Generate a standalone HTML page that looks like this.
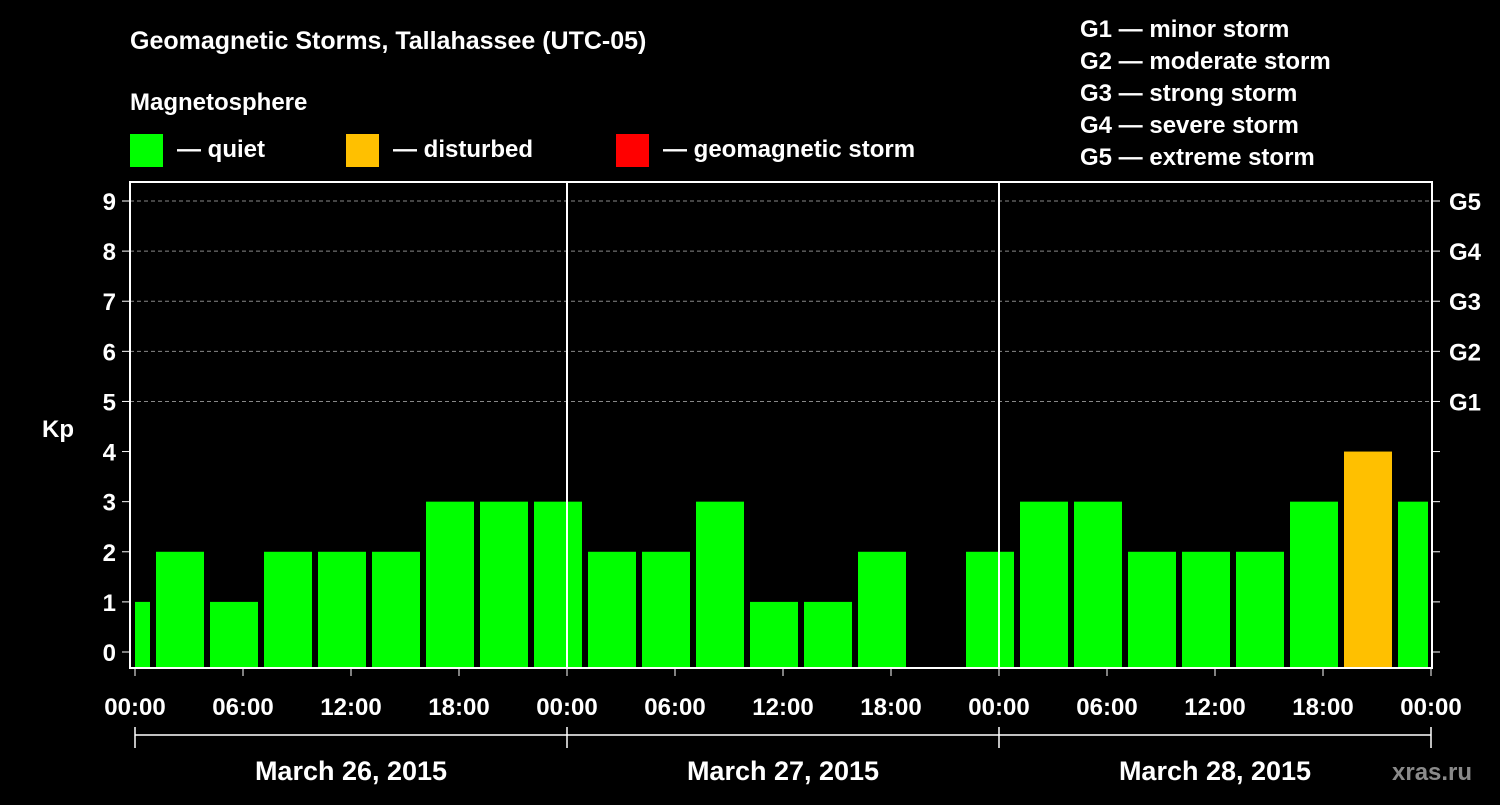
<!DOCTYPE html>
<html><head><meta charset="utf-8"><style>
body{margin:0;background:#000;}
svg text{font-family:"Liberation Sans",sans-serif;font-weight:bold;fill:#fff;}
</style></head><body>
<svg id="c" width="1500" height="800" xmlns="http://www.w3.org/2000/svg">
<rect width="1500" height="800" fill="#000"/>
<text x="130" y="49" font-size="25">Geomagnetic Storms, Tallahassee (UTC-05)</text>
<text x="130" y="110" font-size="24">Magnetosphere</text>
<g><rect x="130" y="134" width="33" height="33" fill="#00ff00"/><text x="177" y="157" font-size="24">— quiet</text></g>
<g><rect x="346" y="134" width="33" height="33" fill="#ffc000"/><text x="393" y="157" font-size="24">— disturbed</text></g>
<g><rect x="616" y="134" width="33" height="33" fill="#ff0000"/><text x="663" y="157" font-size="24">— geomagnetic storm</text></g>
<g font-size="24">
<text x="1080" y="37">G1 — minor storm</text>
<text x="1080" y="69">G2 — moderate storm</text>
<text x="1080" y="101">G3 — strong storm</text>
<text x="1080" y="133">G4 — severe storm</text>
<text x="1080" y="165">G5 — extreme storm</text>
</g>
<text x="42" y="437" font-size="24">Kp</text>
<text x="1392" y="780" font-size="24" fill="#888" style="fill:#8a8a8a">xras.ru</text>
<g id="plot"></g>
</svg>
<script>
const kpValues=[1,2,1,2,2,2,3,3,3,2,2,3,1,1,2,0,2,3,3,2,2,2,3,4,3];
const yTicks=[0,1,2,3,4,5,6,7,8,9];
const gLabels=["G1","G2","G3","G4","G5"];
const xTickLabels=["00:00","06:00","12:00","18:00","00:00","06:00","12:00","18:00","00:00","06:00","12:00","18:00","00:00"];
const dayLabels=["March 26, 2015","March 27, 2015","March 28, 2015"];
const NS="http://www.w3.org/2000/svg";
const g=document.getElementById('plot');
const L=130,R=1432,T=182,B=668,X0=135,X1=1431;
const x=h=>X0+(X1-X0)*h/72;
const y=v=>652-v*(652-201)/9;
function mk(t,a){const e=document.createElementNS(NS,t);for(const k in a)e.setAttribute(k,a[k]);g.appendChild(e);return e;}
// grid
gLabels.forEach((lab,i)=>{const v=5+i;
 const l=mk('line',{x1:L,x2:R,y1:y(v),y2:y(v),stroke:'#888','stroke-dasharray':'4,3','stroke-width':1});
 
 
 const t=mk('text',{x:1449,y:y(v)+9,'font-size':24});t.textContent=lab;
 
 
});
// bars
kpValues.forEach((v,i)=>{
 if(v<=0)return;
 const s=Math.max(0,3*i-2),e=Math.min(72,3*i+1);
 const x0=x(s)+(s>0?3:0),x1=x(e)-(e<72?3:3);
 const r=mk('rect',{x:x0,y:y(v),width:x1-x0,height:B-y(v),fill:v>=5?'#ff0000':v>=4?'#ffc000':'#00ff00'});
 
 
});
// frame
const f=mk('rect',{x:L,y:T,width:R-L,height:B-T,fill:'none',stroke:'#fff','stroke-width':2});


[24,48].forEach(h=>{const l=mk('line',{x1:x(h),x2:x(h),y1:T,y2:B,stroke:'#fff','stroke-width':2});
 
 });
// y ticks
yTicks.forEach(v=>{
 mk('line',{x1:L-8,x2:L,y1:y(v),y2:y(v),stroke:'#fff','stroke-width':1});
 mk('line',{x1:R,x2:R+8,y1:y(v),y2:y(v),stroke:'#fff','stroke-width':1});
 const t=mk('text',{x:L-14,y:y(v)+9,'font-size':24,'text-anchor':'end'});t.textContent=v;
 
 
});
// x ticks
xTickLabels.forEach((lab,i)=>{const xx=x(i*6);
 mk('line',{x1:xx,x2:xx,y1:B,y2:B+8,stroke:'#fff','stroke-width':1});
 const t=mk('text',{x:xx,y:715,'font-size':24,'text-anchor':'middle'});t.textContent=lab;
 
 
});
mk('line',{x1:X0,x2:X1,y1:735,y2:735,stroke:'#fff','stroke-width':1.5});
for(let d=0;d<=3;d++)mk('line',{x1:x(d*24),x2:x(d*24),y1:727,y2:748,stroke:'#fff','stroke-width':1.5});
dayLabels.forEach((lab,d)=>{const t=mk('text',{x:x(d*24+12),y:780,'font-size':27,'text-anchor':'middle'});t.textContent=lab;
 
 });
</script>
</body></html>
